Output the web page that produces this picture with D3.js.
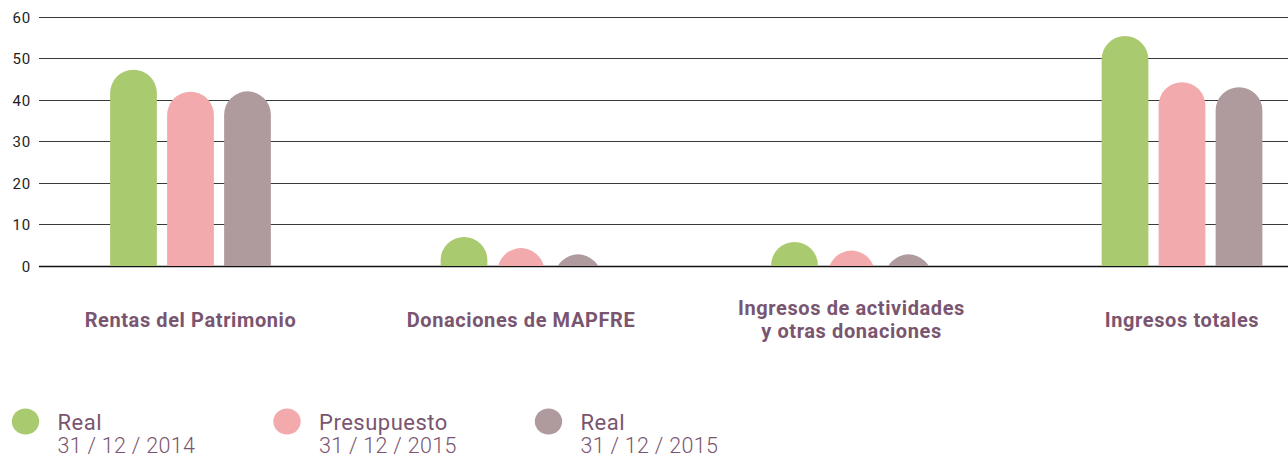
<!DOCTYPE html>
<html><head><meta charset="utf-8">
<script src="https://cdn.jsdelivr.net/npm/d3@7"></script>
<style>
html,body{margin:0;padding:0;background:#fff;}
svg{display:block;font-family:Roboto, "Noto Sans", sans-serif;}
</style></head>
<body>
<svg id="chart" width="1288" height="457"></svg>
<script>
const categories = [["Rentas del Patrimonio"], ["Donaciones de MAPFRE"], ["Ingresos de actividades", "y otras donaciones"], ["Ingresos totales"]];
const seriesNames = ["Real 2014", "Presupuesto 2015", "Real 2015"];
const real2014 = [47.2, 7.0, 5.8, 55.3];
const presupuesto2015 = [41.9, 4.3, 3.7, 44.2];
const real2015 = [42.0, 2.8, 2.8, 43.0];
const yTicks = [0, 10, 20, 30, 40, 50, 60];
const legendTitles = ["Real", "Presupuesto", "Real"];
const legendDates = ["31 / 12 / 2014", "31 / 12 / 2015", "31 / 12 / 2015"];
const colors = ["#aaca70", "#f2aaac", "#af9a9e"];

const seriesValues = [real2014, presupuesto2015, real2015];
const svg = d3.select("#chart");

const y = d3.scaleLinear().domain([0, 60]).range([266, 16.5]);
const x0 = d3.scalePoint().domain(d3.range(categories.length)).range([190.5, 1182]);
const x1 = d3.scaleBand().domain(d3.range(seriesNames.length)).range([-85.5, 85.5]).paddingInner(0.18).paddingOuter(0.09);

// gridlines
svg.append("g").selectAll("line").data(yTicks).join("line")
  .attr("x1", 39).attr("x2", 1288)
  .attr("y1", d => Math.round(y(d)) + 0.5).attr("y2", d => Math.round(y(d)) + 0.5)
  .attr("stroke", d => d === 0 ? "#111" : "#3a3a3a").attr("stroke-width", d => d === 0 ? 1.4 : 1);

// tick labels
svg.append("g").selectAll("text").data(yTicks).join("text")
  .attr("x", 31).attr("y", d => y(d)).attr("dy", "0.4em")
  .attr("text-anchor", "end").attr("font-size", 15).attr("letter-spacing", 0.8).attr("fill", "#1e1e1e")
  .text(d => d);

// clip above baseline
svg.append("clipPath").attr("id", "above").append("rect")
  .attr("x", 0).attr("y", 0).attr("width", 1288).attr("height", y(0));

const bw = x1.bandwidth();
const r = bw / 2;
const bars = [];
categories.forEach((c, i) => seriesValues.forEach((vals, s) => bars.push({i, s, v: vals[i]})));

function barPath(d) {
  const xl = x0(d.i) + x1(d.s);
  const top = y(d.v);
  const base = y(0);
  const cy = top + r;
  const p = d3.path();
  p.moveTo(xl, cy);
  p.arc(xl + r, cy, r, Math.PI, 3 * Math.PI);
  p.closePath();
  if (cy < base) {
    p.moveTo(xl, cy);
    p.lineTo(xl + bw, cy);
    p.lineTo(xl + bw, base);
    p.lineTo(xl, base);
    p.closePath();
  }
  return p.toString();
}

svg.append("g").attr("clip-path", "url(#above)").selectAll("path").data(bars).join("path")
  .attr("d", barPath).attr("fill", d => colors[d.s]);

// category labels
const catG = svg.append("g");
categories.forEach((lines, i) => {
  const t = catG.append("text").attr("text-anchor", "middle")
    .attr("font-size", 20).attr("font-weight", 700).attr("letter-spacing", 0.6).attr("fill", "#7a5570");
  const lh = 23;
  const startY = 326.5 - (lines.length - 1) * lh / 2;
  lines.forEach((ln, k) => {
    t.append("tspan").attr("x", x0(i)).attr("y", startY + k * lh).text(ln);
  });
});

// legend
const lx = d3.scalePoint().domain(d3.range(seriesNames.length)).range([25.5, 548.5]);
const lg = svg.append("g");
seriesNames.forEach((n, s) => {
  lg.append("ellipse").attr("cx", lx(s)).attr("cy", 421.5).attr("rx", 13.7).attr("ry", 13)
    .attr("fill", colors[s]);
  lg.append("text").attr("x", lx(s) + 32).attr("y", 429.5)
    .attr("font-size", 22).attr("letter-spacing", 0.5).attr("fill", "#7a5570").text(legendTitles[s]);
  lg.append("text").attr("x", lx(s) + 32).attr("y", 452.5)
    .attr("font-size", 21.5).attr("font-weight", 300).attr("letter-spacing", 0.3).attr("fill", "#7a5570").text(legendDates[s]);
});
</script>
</body></html>
